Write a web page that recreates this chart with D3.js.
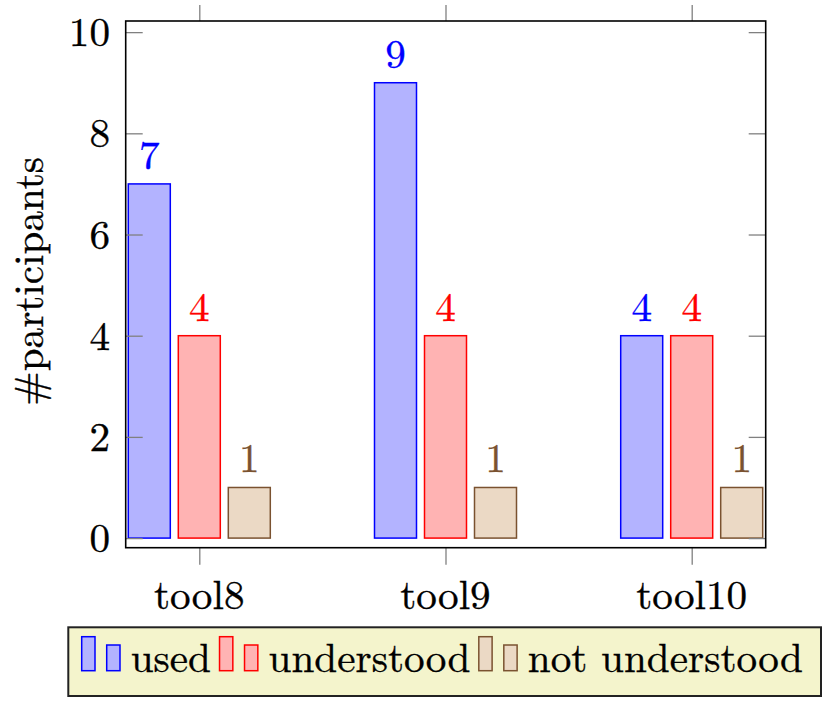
<!DOCTYPE html>
<html>
<head>
<meta charset="utf-8">
<script src="https://cdn.jsdelivr.net/npm/d3@7"></script>
<style>
  body { margin: 0; background: #fff; }
  svg { display: block; }
</style>
</head>
<body>
<svg id="canvas" width="828" height="702"></svg>
<script>
// chart data
let categories = ['tool8', 'tool9', 'tool10']
let seriesNames = ['used', 'understood', 'not understood']
let usedValues = [7, 9, 4]
let understoodValues = [4, 4, 4]
let notUnderstoodValues = [1, 1, 1]
let yTickValues = [0, 2, 4, 6, 8, 10]

let seriesValues = [usedValues, understoodValues, notUnderstoodValues]
let strokeColors = ['#0000ff', '#ff0000', '#7a5230']
let fillColors = ['#b3b3ff', '#ffb3b3', '#ebd9c5']

let svg = d3.select('#canvas')
let fontFamily = "'Latin Modern Roman', 'Liberation Serif', serif"
let fontSize = 41.2

let plotLeft = 125.7, plotRight = 765.7, plotTop = 21, plotBottom = 547.7

let xScale = d3.scalePoint()
  .domain(categories)
  .range([199.3, 691.7])

let offsetScale = d3.scaleBand()
  .domain(seriesNames)
  .range([-75, 75])
  .paddingInner(0.16)
  .paddingOuter(0.08)

let yScale = d3.scaleLinear()
  .domain([-0.19, 10.22])
  .range([plotBottom, plotTop])

// shared text look, slightly thickened like the scaled TeX output
let addText = (sel, color) => sel
  .style('font-family', fontFamily)
  .attr('font-size', fontSize)
  .attr('fill', color || '#000')
  .attr('stroke', color || '#000')
  .attr('stroke-width', 0.35)

// bars
seriesNames.forEach((name, s) => {
  let rows = categories.map((c, i) => ({ cat: c, value: seriesValues[s][i] }))
  let g = svg.append('g')
  g.selectAll('rect')
    .data(rows)
    .enter()
    .append('rect')
    .attr('x', (d) => xScale(d.cat) + offsetScale(name))
    .attr('y', (d) => yScale(d.value))
    .attr('width', offsetScale.bandwidth())
    .attr('height', (d) => yScale(0) - yScale(d.value))
    .attr('fill', fillColors[s])
    .attr('stroke', strokeColors[s])
    .attr('stroke-width', 1.5)

  g.selectAll('text')
    .data(rows)
    .enter()
    .append('text')
    .call(addText, strokeColors[s])
    .attr('x', (d) => xScale(d.cat) + offsetScale(name) + offsetScale.bandwidth() / 2)
    .attr('y', (d) => yScale(d.value) - 15)
    .attr('text-anchor', 'middle')
    .text((d) => d.value)
})

// y ticks (inside, both sides)
let yAxisLeft = d3.axisRight(yScale).tickValues(yTickValues).tickSize(17).tickFormat('')
let yAxisRight = d3.axisLeft(yScale).tickValues(yTickValues).tickSize(17).tickFormat('')
svg.append('g').attr('transform', 'translate(' + plotLeft + ',0)').call(yAxisLeft)
svg.append('g').attr('transform', 'translate(' + plotRight + ',0)').call(yAxisRight)

// x ticks (outside, top and bottom)
let xAxisBottom = d3.axisBottom(xScale).tickSize(17).tickFormat('')
let xAxisTop = d3.axisTop(xScale).tickSize(16).tickFormat('')
svg.append('g').attr('transform', 'translate(0,' + plotBottom + ')').call(xAxisBottom)
svg.append('g').attr('transform', 'translate(0,' + plotTop + ')').call(xAxisTop)

svg.selectAll('.domain').remove()
svg.selectAll('.tick line').attr('stroke', '#808080').attr('stroke-width', 1.3)

// tick labels
svg.append('g').selectAll('text')
  .data(yTickValues)
  .enter()
  .append('text')
  .call(addText)
  .attr('x', 110)
  .attr('y', (d) => yScale(d) + 14)
  .attr('text-anchor', 'end')
  .text((d) => d)

svg.append('g').selectAll('text')
  .data(categories)
  .enter()
  .append('text')
  .call(addText)
  .attr('x', (d) => xScale(d))
  .attr('y', 609)
  .attr('text-anchor', 'middle')
  .text((d) => d)

// frame
svg.append('rect')
  .attr('x', plotLeft)
  .attr('y', plotTop)
  .attr('width', plotRight - plotLeft)
  .attr('height', plotBottom - plotTop)
  .attr('fill', 'none')
  .attr('stroke', '#000')
  .attr('stroke-width', 1.6)

// y label
svg.append('text')
  .call(addText)
  .attr('transform', 'translate(43,' + ((plotTop + plotBottom) / 2 - 3) + ') rotate(-90)')
  .attr('text-anchor', 'middle')
  .text('#participants')

// legend
let legendBox = svg.append('rect')
  .attr('x', 68.3)
  .attr('y', 627.3)
  .attr('height', 68.7)
  .attr('fill', '#f4f4cc')
  .attr('stroke', '#222')
  .attr('stroke-width', 2)

let cursor = 81.7
let textEnd = cursor
seriesNames.forEach((name, s) => {
  let lg = svg.append('g')
  lg.append('rect')
    .attr('x', cursor).attr('y', 636.7)
    .attr('width', 13.3).attr('height', 34)
    .attr('fill', fillColors[s]).attr('stroke', strokeColors[s]).attr('stroke-width', 1.5)
  lg.append('rect')
    .attr('x', cursor + 25).attr('y', 645)
    .attr('width', 13.3).attr('height', 25.7)
    .attr('fill', fillColors[s]).attr('stroke', strokeColors[s]).attr('stroke-width', 1.5)
  let label = lg.append('text')
    .call(addText)
    .attr('x', cursor + 49)
    .attr('y', 672.3)
    .text(name)
  let w = label.node().getComputedTextLength()
  textEnd = cursor + 49 + w
  cursor = textEnd + 8.5
})
legendBox.attr('width', Math.min(textEnd + 19, 821) - 68.3)
</script>
</body>
</html>
